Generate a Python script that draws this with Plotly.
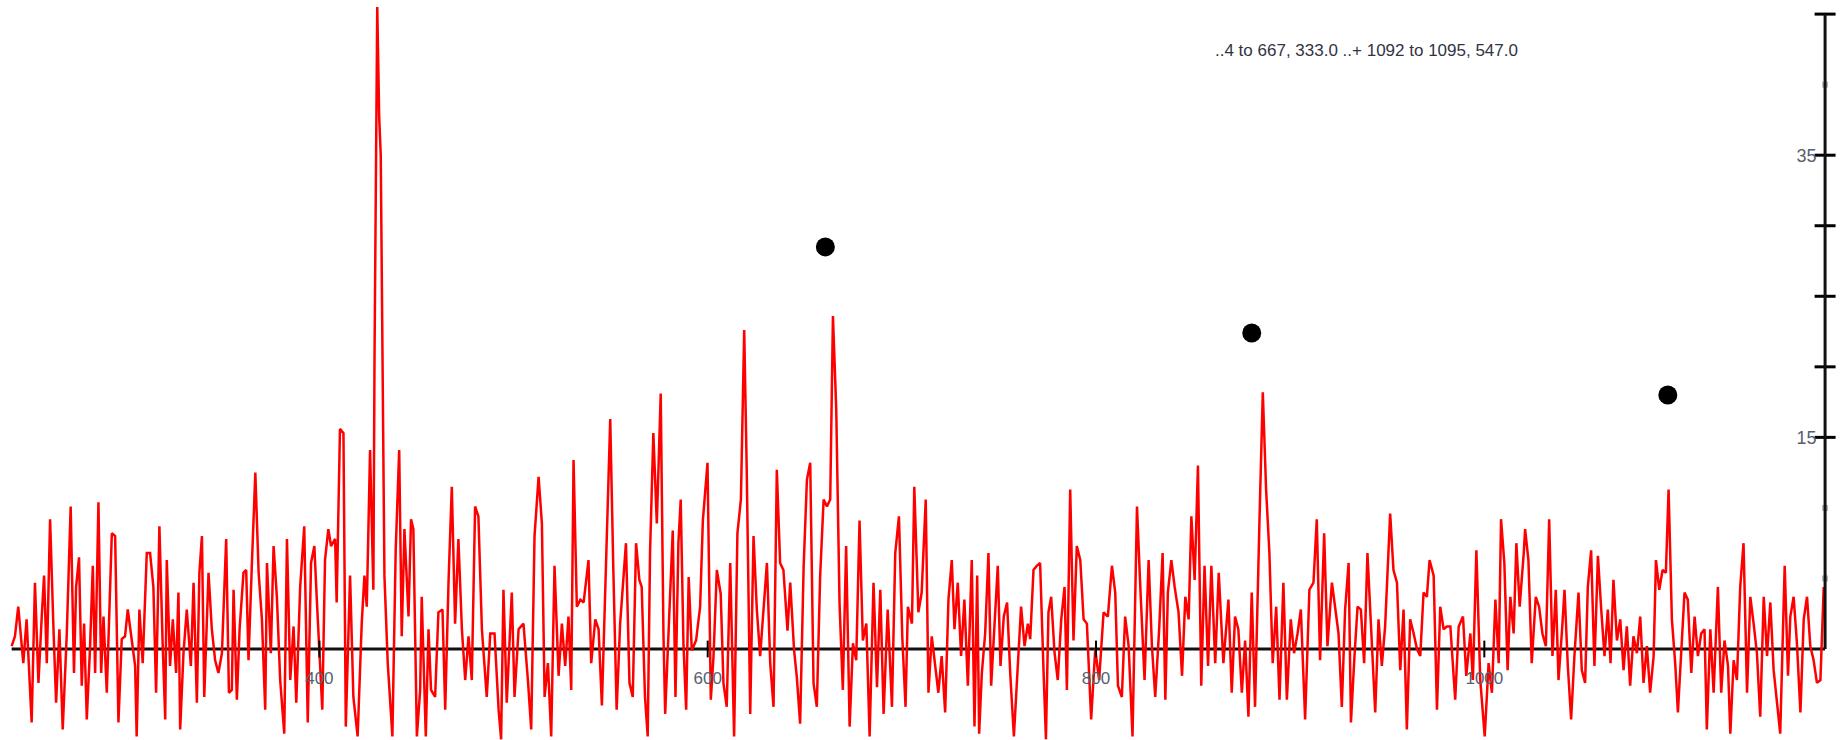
import plotly.graph_objects as go

# ---- spectrum, read segment by segment (wavenumber, intensity) ----
wn_a = [241.5, 243.2, 244.9, 247.5, 249.2, 251.8, 253.5, 255.3, 257.0, 258.2, 259.6, 261.3, 263.0, 264.4,
        266.1, 267.8, 269.9, 271.9, 273.6, 274.7, 276.2, 277.6, 278.8, 280.2, 281.9, 283.3, 284.5, 286.2,
        287.6, 288.8, 290.5, 293.1, 294.8, 296.5, 298.2, 299.9, 301.3, 303.4, 305.1, 305.9, 307.3, 309.0,
        311.1, 312.8, 314.5, 315.9, 317.6, 319.2, 320.6, 321.4, 323.1, 324.5, 326.2, 327.4, 328.3, 330.0,
        331.7, 333.8, 335.2, 336.9, 338.2, 339.5, 340.7, 342.9, 344.6, 346.3, 348.0, 349.8, 352.0, 353.4,
        354.9, 355.8, 357.5, 358.9, 360.9, 362.3, 363.5, 365.2, 367.0, 368.7, 370.4, 372.1, 373.0, 375.0,
        376.4, 378.1, 379.8, 381.9, 383.3, 385.0, 386.7, 388.1, 390.1, 392.2]
int_a = [0.2, 0.9, 3.0, -1.0, 2.1, -5.2, 4.7, -2.4, 2.3, 5.2, -1.0, 9.2, 1.6, -3.8,
         1.4, -5.7, 1.1, 10.1, -1.7, 4.4, 6.5, -2.6, 1.8, -5.0, 0.2, 5.9, -1.7, 10.4,
         -1.7, 2.3, -3.1, 8.2, 8.0, -5.2, 0.7, 0.9, 2.8, 0.7, -1.2, -6.2, 2.8, -1.0,
         6.8, 6.8, 4.4, -3.1, 8.7, 0.7, -5.0, 6.3, -1.2, 2.1, -1.7, 4.0, -5.7, -0.3,
         2.8, -1.2, 4.7, -3.8, 5.4, 8.0, -3.4, 5.4, 1.4, -0.8, -1.7, -0.3, 7.8, -3.1,
         -2.9, 4.2, -3.6, 1.4, 5.4, 5.6, -0.8, 5.9, 12.5, 5.4, 2.1, -4.3, 6.1, -0.3,
         7.3, 3.7, -2.2, -6.0, 7.8, -2.2, 1.6, -3.8, 4.4, 8.7]

wn_b = [394.0, 395.7, 397.4, 398.6, 400.3, 401.5, 402.9, 404.6, 406.0, 408.1, 408.9, 410.6, 412.4, 413.6,
        415.8, 417.5, 419.7, 421.8, 423.2, 424.4, 426.1, 427.8, 428.4, 429.8, 430.8, 431.6, 433.5, 435.2,
        437.6, 439.3, 441.1, 442.4, 443.8, 445.9, 447.2, 448.4, 450.2, 451.9, 452.7, 454.8, 456.2, 457.5,
        459.6, 461.3, 463.4, 464.8, 466.5, 468.2, 469.9, 471.6, 473.4, 475.1, 476.8, 478.5, 480.2, 481.9,
        483.7, 486.2, 488.0, 490.2, 492.3, 493.6, 494.8, 496.5, 499.1, 500.5, 502.6, 505.1, 507.4, 509.1,
        510.8, 512.9, 514.6, 516.0, 517.7, 519.4, 521.1, 523.2, 524.9, 526.6, 528.3, 529.7, 530.9, 532.6,
        534.4, 536.1, 538.6, 540.0, 542.1, 543.8, 545.5, 547.2, 549.0, 549.8]
int_b = [-5.2, 6.1, 7.3, 3.7, -1.0, -4.3, 6.3, 8.5, 7.3, 7.8, 3.3, 15.6, 15.3, -5.5,
         5.2, -3.4, -6.2, 1.8, 5.2, 3.0, 14.1, 4.2, 20.8, 45.5, 37.7, 35.0, 5.2, -1.0,
         -6.2, 7.0, 14.1, 0.9, 8.5, 2.3, 9.2, 8.5, -6.2, -2.9, 3.7, -6.2, 1.4, -2.9,
         -3.4, 2.6, 2.8, -4.3, 4.7, 11.5, 1.8, 7.8, 1.4, -2.2, 0.9, -2.2, 10.1, 9.4,
         1.4, -3.4, 1.1, 1.1, -4.3, -6.4, 4.2, -3.8, 4.0, -3.4, 1.4, 1.8, -2.2, -5.7,
         8.0, 12.2, 8.9, -3.4, -1.0, -6.2, 5.9, -1.9, 1.8, -1.2, 2.3, -2.9, 13.4, 3.0,
         3.5, 3.3, 6.3, -1.0, 2.1, 1.4, -4.0, 4.0, 12.7, 16.3]

wn_c = [551.4, 553.1, 554.9, 556.6, 557.9, 559.7, 561.4, 563.1, 564.8, 566.0, 567.7, 569.1, 570.3, 572.0,
        573.8, 575.8, 577.2, 578.1, 580.3, 582.0, 583.4, 584.9, 586.1, 587.5, 588.9, 590.2, 591.8, 594.0,
        596.1, 597.5, 599.9, 601.6, 603.0, 604.7, 606.7, 608.1, 609.8, 611.6, 613.6, 615.3, 617.1, 618.8,
        620.1, 621.9, 623.6, 625.3, 627.0, 628.7, 630.5, 632.2, 633.9, 635.6, 637.3, 639.0, 641.1, 642.5,
        644.5, 645.9, 647.6, 649.4, 651.1, 652.8, 654.5, 656.2, 657.9, 659.7, 661.4, 663.1, 664.5, 666.2,
        667.9, 669.6, 671.3, 673.1, 674.8, 676.5, 678.2, 679.9, 681.7, 683.4, 685.4, 687.2, 688.9, 690.6,
        692.7, 694.9, 696.6, 698.5, 700.2, 701.9, 703.1, 705.2, 706.4]
int_c = [5.6, -4.3, 1.8, 5.1, 7.5, -2.4, -3.4, 7.5, 4.9, 4.4, -3.4, -6.2, 6.8, 15.3,
         8.9, 18.1, 1.1, -4.6, 2.8, 8.4, -3.4, 7.5, 10.6, 0.4, -4.3, 5.1, -0.1, 0.6,
         3.0, 9.1, 13.2, -3.6, -0.5, 5.6, 3.9, -2.4, -4.1, 6.1, -6.2, 8.2, 10.6, 22.6,
         12.7, -4.6, 8.0, 2.8, -0.5, 2.5, 6.1, -1.0, -4.1, 12.7, 6.1, 5.6, 1.3, 4.7,
         -0.1, -2.0, -5.3, 5.8, 12.0, 13.2, -2.4, -4.1, 5.1, 10.6, 10.1, 10.6, 23.6, 17.0,
         3.2, -2.9, 7.3, -5.5, 0.4, -0.8, 9.1, 0.6, 1.8, -6.2, 4.7, -2.7, 4.2, -4.6,
         2.8, -4.1, 6.8, 9.4, 0.9, -4.1, 3.0, 1.8, 11.5]

wn_d = [708.5, 710.2, 712.3, 713.7, 715.4, 717.1, 718.8, 720.5, 722.3, 724.0, 725.7, 727.1, 728.8, 730.5,
        732.2, 734.0, 736.0, 737.4, 738.8, 739.8, 741.2, 742.9, 744.6, 746.0, 747.7, 749.4, 750.8, 752.5,
        754.2, 755.8, 757.7, 759.7, 761.4, 763.2, 764.9, 766.1, 767.8, 769.5, 771.2, 773.0, 774.2, 775.5,
        776.9, 778.6, 780.3, 782.1, 783.8, 785.0, 786.7, 788.4, 790.1, 791.9, 793.6, 795.3, 797.5, 799.6,
        801.6, 803.9, 806.1, 808.2, 809.9, 811.3, 813.3, 815.0, 816.8, 818.8, 821.1, 822.8, 825.0, 827.1,
        828.8, 830.5, 832.6, 834.3, 835.7, 837.0, 838.8, 840.5, 842.5, 844.3, 846.0, 847.7, 849.1, 850.8,
        852.5, 854.2, 855.9, 857.7, 859.4, 861.4, 863.2]
int_d = [2.6, 4.0, 10.6, -3.1, 0.9, -1.0, -3.1, -0.5, -4.5, 3.5, 6.3, 1.4, 4.7, -0.5,
         3.5, -2.6, 6.3, -5.5, 5.2, -6.0, -1.7, 1.1, 6.8, -2.6, 1.4, 5.9, -1.2, 2.3,
         3.3, -1.7, -6.2, -1.2, 3.0, 0.2, 1.8, 0.7, 5.6, 5.9, 6.1, -1.7, -6.4, 2.6,
         3.7, -0.2, -2.2, 2.1, 4.4, -2.9, 11.3, 0.6, 7.3, 6.3, 2.1, 1.8, -5.0, 0.0,
         -2.2, 2.6, 2.3, 5.9, 4.0, -2.6, -3.4, 2.3, 0.2, -6.2, 10.1, 4.4, -2.2, 6.3,
         0.2, -3.4, 1.6, 6.8, -3.6, 4.0, 6.3, 4.4, 2.6, -1.9, 3.7, 2.1, 9.4, 4.9,
         13.0, -2.6, 5.9, -1.2, 5.9, -1.0, 5.4]

wn_e = [865.6, 868.2, 869.9, 871.6, 873.3, 875.1, 876.8, 878.5, 880.2, 881.9, 884.2, 885.9, 887.6, 889.3,
        891.0, 892.8, 894.5, 896.5, 898.3, 900.3, 902.0, 903.8, 905.5, 907.7, 909.9, 912.0, 913.7, 915.4,
        917.5, 919.2, 921.5, 923.2, 924.9, 926.6, 928.3, 930.1, 931.3, 933.0, 934.7, 936.4, 938.1, 939.8,
        941.6, 943.8, 945.5, 947.2, 948.9, 951.5, 953.2, 955.0, 956.7, 958.4, 960.1, 961.8, 963.6, 965.3,
        967.0, 968.7, 970.4, 971.8, 973.9, 975.6, 977.3, 979.0, 980.7, 982.5, 985.0, 986.8, 989.0, 990.7,
        992.8, 994.1, 995.9, 997.9, 1000.2, 1002.2, 1003.9, 1005.7, 1007.4, 1008.6, 1010.3, 1012.0, 1013.4, 1015.1,
        1016.5, 1018.2, 1020.3]
int_e = [-1.0, 3.5, -3.1, 2.3, 1.4, -3.1, 0.6, -4.8, 4.0, -4.1, 9.2, 18.2, 11.3, 6.8,
         -1.0, 3.0, -3.6, 4.7, -3.6, 2.1, -0.3, 1.1, 2.8, -5.0, 4.2, 4.7, 9.2, -0.8,
         8.2, 0.2, 4.7, 2.8, 1.1, -4.1, 2.8, 6.1, -5.2, -0.8, 3.0, 2.8, -1.0, 6.8,
         1.8, -4.5, 2.1, -1.2, 1.6, 9.6, 5.6, 4.7, -1.5, 2.8, -5.7, 2.1, 1.1, 0.0,
         -0.5, 4.0, 3.7, 6.3, 5.2, -4.3, 3.0, 1.4, 1.6, 1.6, -3.6, 1.6, 2.3, -1.9,
         1.1, -2.2, 7.0, -2.2, -6.2, -1.0, -3.1, 3.5, -1.0, 9.2, 6.1, -1.5, 3.7, 1.1,
         7.5, 3.0, 6.8]

wn_f = [1021.0, 1022.7, 1024.4, 1026.5, 1028.2, 1029.9, 1031.7, 1033.4, 1035.1, 1036.8, 1038.2, 1039.9, 1041.3, 1043.0,
        1044.7, 1046.4, 1048.5, 1050.2, 1051.9, 1053.3, 1055.0, 1056.7, 1058.5, 1060.2, 1061.9, 1063.6, 1065.0, 1066.5,
        1068.3, 1070.0, 1071.7, 1073.4, 1075.1, 1076.8, 1078.6, 1080.3, 1082.0, 1083.7, 1085.4, 1087.2, 1088.4, 1090.1,
        1091.8, 1093.5, 1094.9, 1096.6, 1098.3, 1099.7, 1101.4, 1103.1, 1104.8, 1106.6, 1108.3, 1110.0, 1111.7, 1113.4,
        1114.6, 1116.4, 1118.1, 1120.3, 1122.0, 1123.7, 1125.5, 1126.7, 1128.4, 1130.1, 1131.8, 1133.5, 1135.3, 1137.0,
        1138.7, 1140.4, 1142.1, 1143.9, 1145.6, 1147.3, 1149.0, 1150.7, 1152.4, 1154.7, 1156.4, 1157.6, 1159.3, 1161.0,
        1162.8, 1164.5, 1166.2, 1167.9, 1169.6, 1171.3, 1173.1, 1174.8]
int_f = [8.5, 6.3, -1.0, 3.7, 3.0, 1.1, 0.2, 9.2, -0.5, 4.2, -2.2, 1.1, 4.2, -1.2,
         -5.0, -0.5, 4.0, -1.5, -2.4, 4.4, 7.0, -1.2, 6.6, 2.8, -0.5, 2.8, -1.0, 4.9,
         0.6, 2.1, -1.5, 1.6, -2.6, 0.9, -0.3, 2.3, -2.4, 0.2, -3.1, -0.5, 6.3, 4.2,
         5.6, 5.4, 11.3, 2.1, -1.0, -4.5, -0.3, 4.0, 3.5, -1.7, 2.3, -0.5, 1.1, 1.4,
         -5.7, 1.4, -3.1, 4.4, -3.1, 0.6, -1.2, -6.0, -0.8, -2.2, 4.4, 7.5, -3.1, 3.7,
         1.8, -0.3, -4.8, 3.7, -0.5, 3.3, -1.5, -3.6, -6.0, 5.9, -1.9, 2.3, 3.7, 0.4,
         -4.5, 2.1, 3.7, 0.2, -0.8, -2.4, -2.2, 4.4]

# marked peaks
peak_wn = [660.6, 880.2, 1094.5]
peak_val = [28.5, 22.4, 18.0]

# axis ticks
x_ticks = [400, 600, 800, 1000]
y_ticks_major = [15, 20, 25, 30, 35, 45]
y_ticks_faint = [5, 10, 40]
y_labels = [15, 35]

header = "..4 to 667, 333.0 ..+ 1092 to 1095, 547.0"

# ---- view ----
X_MIN, X_MAX = 235.5, 1183.7
Y_MIN, Y_MAX = -6.45, 46.0
AXIS_X = 1175.5
FONT = "Liberation Sans Narrow, Liberation Sans, Arial"

segments = [(wn_a, int_a), (wn_b, int_b), (wn_c, int_c), (wn_d, int_d), (wn_e, int_e), (wn_f, int_f)]
wn, inten = [], []
for xs, ys in segments:
    assert len(xs) == len(ys), (len(xs), len(ys))
    wn += xs
    inten += ys

fig = go.Figure()

fig.add_trace(go.Scatter(x=wn, y=inten, mode="lines",
                         line=dict(color="#ff0000", width=2.5), hoverinfo="skip"))

fig.add_trace(go.Scatter(x=peak_wn, y=peak_val, mode="markers",
                         marker=dict(color="black", size=19)))

# tick marks crossing the right-hand axis
fig.add_trace(go.Scatter(x=[AXIS_X] * len(y_ticks_major), y=y_ticks_major, mode="markers",
                         marker=dict(symbol="line-ew", size=15, line=dict(color="black", width=3))))
fig.add_trace(go.Scatter(x=[AXIS_X] * len(y_ticks_faint), y=y_ticks_faint, mode="markers",
                         marker=dict(symbol="square", size=6, color="#b8b8b8")))
# tick marks crossing the baseline
fig.add_trace(go.Scatter(x=x_ticks, y=[0] * len(x_ticks), mode="markers",
                         marker=dict(symbol="line-ns", size=12, line=dict(color="black", width=2))))

# baseline and right axis
fig.add_shape(type="line", xref="x", yref="y", x0=wn[0], x1=AXIS_X, y0=0, y1=0,
              line=dict(color="#111111", width=3), layer="below")
fig.add_shape(type="line", xref="x", yref="y", x0=AXIS_X, x1=AXIS_X, y0=0, y1=max(y_ticks_major),
              line=dict(color="#111111", width=3), layer="above")

fig.add_annotation(x=0.742, y=0.932, xref="paper", yref="paper", text=header,
                   showarrow=False, xanchor="center", yanchor="middle",
                   font=dict(family=FONT, size=17, color="#333344"))

fig.update_layout(
    width=1841, height=740,
    margin=dict(l=0, r=0, t=0, b=0),
    paper_bgcolor="white", plot_bgcolor="white",
    showlegend=False,
    xaxis=dict(range=[X_MIN, X_MAX], showgrid=False, zeroline=False, showline=False,
               tickvals=x_ticks, ticktext=[str(v) for v in x_ticks],
               ticks="outside", ticklen=14, tickcolor="rgba(0,0,0,0)",
               anchor="free", position=(0 - Y_MIN) / (Y_MAX - Y_MIN),
               tickfont=dict(family=FONT, size=17, color="#556070")),
    yaxis=dict(range=[Y_MIN, Y_MAX], showgrid=False, zeroline=False, showline=False,
               tickvals=y_labels, ticktext=[str(v) for v in y_labels],
               ticks="outside", ticklen=5, tickcolor="rgba(0,0,0,0)",
               anchor="free", side="left", position=(AXIS_X - X_MIN) / (X_MAX - X_MIN),
               tickfont=dict(family=FONT, size=18, color="#556070")),
)

fig.write_html("out.html")
